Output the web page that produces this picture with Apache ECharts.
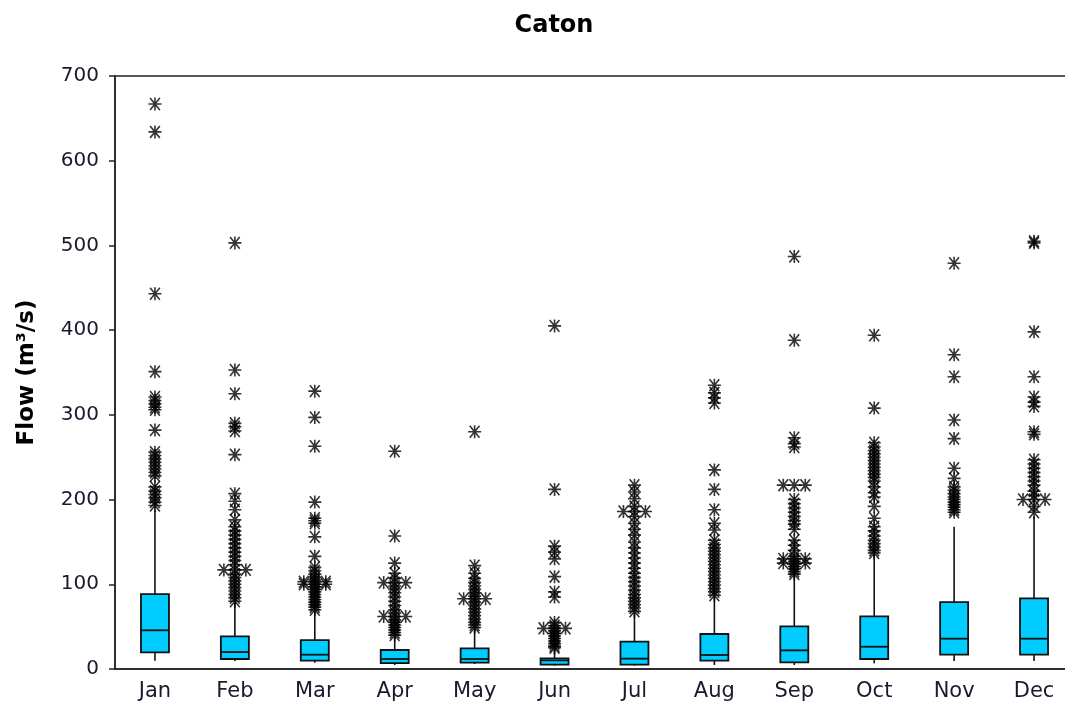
<!DOCTYPE html>
<html>
<head>
<meta charset="utf-8">
<script src="https://cdn.jsdelivr.net/npm/echarts@6/dist/echarts.min.js"></script>
<style>html,body{margin:0;padding:0;background:#fff}#c{width:1065px;height:706px}</style>
</head>
<body>
<div id="c"></div>
<script>
const months = ['Jan','Feb','Mar','Apr','May','Jun','Jul','Aug','Sep','Oct','Nov','Dec'];
const yTicks = [0,100,200,300,400,500,600,700];
const lowWhisker  = [9.8, 9.4, 7.4, 4.7, 5.9, 4.0, 4.0, 4.7, 4.7, 6.7, 9.4, 9.4];
const q1          = [19.7, 11.8, 9.8, 7.0, 7.5, 5.1, 5.1, 9.8, 7.9, 11.8, 16.9, 16.9];
const median      = [45.7, 20.0, 16.9, 11.8, 11.8, 10.2, 12.2, 16.5, 22.0, 26.3, 35.8, 35.8];
const q3          = [88.5, 38.6, 34.2, 22.4, 24.4, 12.6, 32.3, 41.3, 50.4, 62.2, 79.0, 83.4];
const highWhisker = [188, 78, 68, 38, 46, 24, 66, 86, 112, 135, 168, 180];

const outJan = [667,634,443,351,321,317,313,309,306,282,256,252,248,244,240,236,232,228,215,210,206,202,197,193];
const outFeb = [503,353,325,290,286,281,253,207,198,188,176,168,163,158,153,148,143,138,133,128,123,117,112,108,104,100,96,92,88,84,80];
const outMar = [328,297,263,197,178,175,172,156,133,120,116,112,108,105,103,100,97,94,91,88,85,82,79,76,73,70];
const outApr = [257,157,125,113,107,102,98,94,90,85,80,75,70,66,62,58,55,52,49,46,43,40];
const outMay = [280,122,113,107,102,98,94,90,86,83,79,75,71,67,63,59,55,52,49];
const outJun = [405,212,145,138,130,109,91,85,55,51,48,45,42,39,36,33,30,27,25];
const outJul = [217,209,201,192,186,180,172,165,158,150,143,137,131,125,119,113,108,103,98,93,88,84,80,76,72,68];
const outAug = [335,326,320,314,235,212,188,172,164,152,147,143,139,135,131,127,123,119,115,111,107,103,99,95,91,87];
const outSep = [487,388,273,266,262,217,200,195,190,185,180,175,171,165,152,146,140,133,130,127,124,121,118,115,112];
const outOct = [394,308,267,262,258,254,250,246,242,238,234,230,226,222,215,208,203,192,178,168,163,157,152,148,144,140,137];
const outNov = [479,371,345,294,272,237,225,215,211,207,203,200,197,194,191,188,185];
const outDec = [505,503,398,345,321,315,310,280,277,247,242,237,232,227,222,217,210,205,200,192,185];
const outliers = [outJan,outFeb,outMar,outApr,outMay,outJun,outJul,outAug,outSep,outOct,outNov,outDec];
// tied outliers drawn side by side: [monthIndex, value]
const tiedOutliers = [[1,117],[2,103],[2,100],[3,102],[3,62],[4,83],[5,48],[6,186],[8,217],[8,130],[8,125],[11,200]];

const boxData = months.map((m,i)=>[i, lowWhisker[i], q1[i], median[i], q3[i], highWhisker[i]]);
const outData = [];
outliers.forEach((arr,i)=>arr.forEach(v=>outData.push([i,v])));

const star = 'path://M0,6L12,6M1.5,0.5L10.5,11.5M10.5,0.5L1.5,11.5M6,0L6,12';
const starStyle = {color:'rgba(0,0,0,0)', borderColor:'#000', borderWidth:1.6};

const chart = echarts.init(document.getElementById('c'), null, {renderer:'canvas'});
const BW = 28;
chart.setOption({
  animation:false,
  backgroundColor:'#fff',
  title:{text:'Caton', left:549, top:9, textAlign:'center',
    textStyle:{fontFamily:'DejaVu Sans', fontWeight:'bold', fontSize:24, color:'#000'}},
  grid:{left:115, top:76, width:959, height:593, outerBoundsMode:'none', containLabel:false,
    show:true, borderColor:'#222', borderWidth:1.5, backgroundColor:'transparent'},
  xAxis:{type:'category', data:months, boundaryGap:true,
    axisLine:{lineStyle:{color:'#222', width:1.5}},
    axisTick:{alignWithLabel:true, length:6, lineStyle:{color:'#222', width:1.5}},
    axisLabel:{fontFamily:'DejaVu Sans', fontSize:21, color:'#1a1a2e', margin:12},
    splitLine:{show:false}},
  yAxis:{type:'value', min:0, max:700, interval:100,
    name:'Flow (m³/s)', nameLocation:'middle', nameGap:76, nameRotate:90,
    nameTextStyle:{fontFamily:'DejaVu Sans', fontWeight:'bold', fontSize:23, color:'#000'},
    axisLine:{show:true, lineStyle:{color:'#222', width:1.5}},
    axisTick:{show:true, length:6, lineStyle:{color:'#222', width:1.5}},
    axisLabel:{fontFamily:'DejaVu Sans', fontSize:20, color:'#1a1a2e', margin:16,
      formatter:v=>yTicks.includes(v)?String(v):''},
    splitLine:{show:false}},
  series:[
    {type:'custom', data:boxData, z:3,
      renderItem:function(params, api){
        const i = api.value(0);
        const lo = api.coord([i, api.value(1)]);
        const a = api.coord([i, api.value(2)]);
        const md = api.coord([i, api.value(3)]);
        const b = api.coord([i, api.value(4)]);
        const hi = api.coord([i, api.value(5)]);
        const x = a[0];
        const ls = {stroke:'#111', lineWidth:1.6};
        return {type:'group', children:[
          {type:'line', shape:{x1:x, y1:lo[1], x2:x, y2:a[1]}, style:ls},
          {type:'line', shape:{x1:x, y1:b[1], x2:x, y2:hi[1]}, style:ls},
          {type:'rect', shape:{x:x-BW/2, y:b[1], width:BW, height:a[1]-b[1]}, style:{fill:'#00CCFF', stroke:'#111', lineWidth:1.8}},
          {type:'line', shape:{x1:x-BW/2, y1:md[1], x2:x+BW/2, y2:md[1]}, style:{stroke:'#111', lineWidth:1.8}}
        ]};
      }},
    {type:'scatter', data:outData, symbol:star, symbolSize:13, itemStyle:starStyle, z:4},
    {type:'scatter', data:tiedOutliers, symbol:star, symbolSize:13, symbolOffset:[-11,0], itemStyle:starStyle, z:4},
    {type:'scatter', data:tiedOutliers, symbol:star, symbolSize:13, symbolOffset:[11,0], itemStyle:starStyle, z:4}
  ]
});
</script>
</body>
</html>
